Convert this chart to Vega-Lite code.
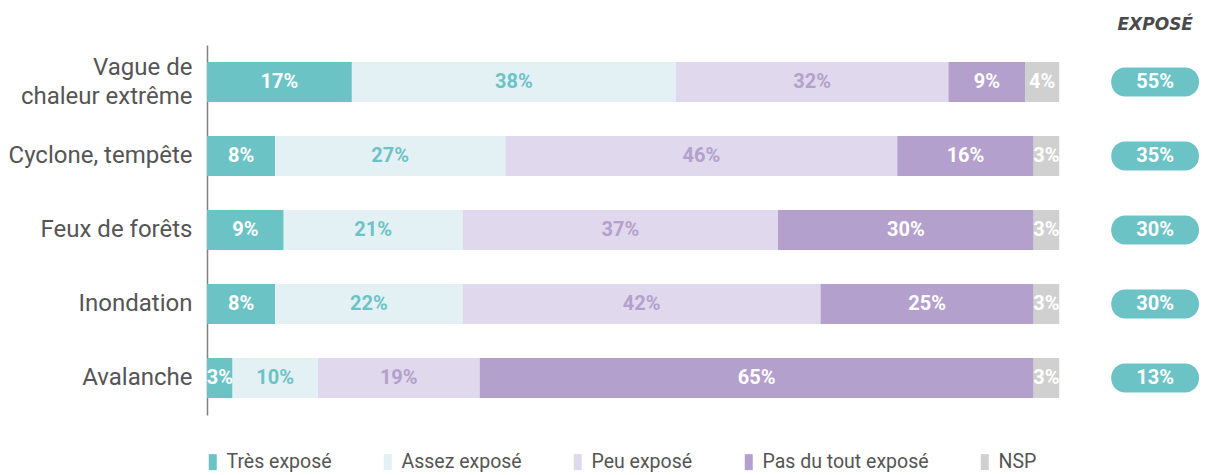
{
  "$schema": "https://vega.github.io/schema/vega-lite/v6.json",
  "width": 992,
  "height": 370,
  "padding": {"left": 8, "top": 16, "right": 5, "bottom": 5},
  "background": "white",
  "title": {"text": "EXPOSÉ", "anchor": "end", "font": "DejaVu Sans", "fontSize": 17, "fontWeight": "bold", "fontStyle": "italic", "color": "#4a4a4a", "offset": 11, "dx": -6},
  "config": {"view": {"stroke": null}, "font": "Roboto"},
  "datasets": {
    "repartition": [
      {"risque": "Vague de chaleur extrême", "categorie": "Très exposé", "rang": 1, "valeur": 0.17},
      {"risque": "Vague de chaleur extrême", "categorie": "Assez exposé", "rang": 2, "valeur": 0.38},
      {"risque": "Vague de chaleur extrême", "categorie": "Peu exposé", "rang": 3, "valeur": 0.32},
      {"risque": "Vague de chaleur extrême", "categorie": "Pas du tout exposé", "rang": 4, "valeur": 0.09},
      {"risque": "Vague de chaleur extrême", "categorie": "NSP", "rang": 5, "valeur": 0.04},
      {"risque": "Cyclone, tempête", "categorie": "Très exposé", "rang": 1, "valeur": 0.08},
      {"risque": "Cyclone, tempête", "categorie": "Assez exposé", "rang": 2, "valeur": 0.27},
      {"risque": "Cyclone, tempête", "categorie": "Peu exposé", "rang": 3, "valeur": 0.46},
      {"risque": "Cyclone, tempête", "categorie": "Pas du tout exposé", "rang": 4, "valeur": 0.16},
      {"risque": "Cyclone, tempête", "categorie": "NSP", "rang": 5, "valeur": 0.03},
      {"risque": "Feux de forêts", "categorie": "Très exposé", "rang": 1, "valeur": 0.09},
      {"risque": "Feux de forêts", "categorie": "Assez exposé", "rang": 2, "valeur": 0.21},
      {"risque": "Feux de forêts", "categorie": "Peu exposé", "rang": 3, "valeur": 0.37},
      {"risque": "Feux de forêts", "categorie": "Pas du tout exposé", "rang": 4, "valeur": 0.30},
      {"risque": "Feux de forêts", "categorie": "NSP", "rang": 5, "valeur": 0.03},
      {"risque": "Inondation", "categorie": "Très exposé", "rang": 1, "valeur": 0.08},
      {"risque": "Inondation", "categorie": "Assez exposé", "rang": 2, "valeur": 0.22},
      {"risque": "Inondation", "categorie": "Peu exposé", "rang": 3, "valeur": 0.42},
      {"risque": "Inondation", "categorie": "Pas du tout exposé", "rang": 4, "valeur": 0.25},
      {"risque": "Inondation", "categorie": "NSP", "rang": 5, "valeur": 0.03},
      {"risque": "Avalanche", "categorie": "Très exposé", "rang": 1, "valeur": 0.03},
      {"risque": "Avalanche", "categorie": "Assez exposé", "rang": 2, "valeur": 0.10},
      {"risque": "Avalanche", "categorie": "Peu exposé", "rang": 3, "valeur": 0.19},
      {"risque": "Avalanche", "categorie": "Pas du tout exposé", "rang": 4, "valeur": 0.65},
      {"risque": "Avalanche", "categorie": "NSP", "rang": 5, "valeur": 0.03}
    ],
    "exposes": [
      {"risque": "Vague de chaleur extrême", "expose": 0.55},
      {"risque": "Cyclone, tempête", "expose": 0.35},
      {"risque": "Feux de forêts", "expose": 0.30},
      {"risque": "Inondation", "expose": 0.30},
      {"risque": "Avalanche", "expose": 0.13}
    ]
  },
  "encoding": {
    "y": {
      "field": "risque",
      "type": "nominal",
      "sort": ["Vague de chaleur extrême", "Cyclone, tempête", "Feux de forêts", "Inondation", "Avalanche"],
      "title": null,
      "scale": {"paddingInner": 0.46, "paddingOuter": 0.23},
      "axis": {
        "ticks": false,
        "domainColor": "#808080",
        "domainWidth": 1.5,
        "labelFont": "Roboto",
        "labelFontSize": 24,
        "labelColor": "#555555",
        "labelPadding": 15,
        "labelLimit": 400,
        "labelLineHeight": 29,
        "labelOffset": {"condition": {"test": "datum.value == 'Vague de chaleur extrême'", "value": -14}, "value": 0},
        "labelExpr": "datum.value == 'Vague de chaleur extrême' ? ['Vague de', 'chaleur extrême'] : datum.label"
      }
    }
  },
  "layer": [
    {
      "data": {"name": "repartition"},
      "mark": {"type": "bar"},
      "encoding": {
        "x": {"field": "valeur", "type": "quantitative", "stack": "zero", "scale": {"domain": [0, 1.164], "nice": false}, "axis": null},
        "order": {"field": "rang", "type": "quantitative"},
        "color": {
          "field": "categorie",
          "type": "nominal",
          "scale": {
            "domain": ["Très exposé", "Assez exposé", "Peu exposé", "Pas du tout exposé", "NSP"],
            "range": ["#6CC3C6", "#E3F1F5", "#E0D8EC", "#B4A0CC", "#D0D0D0"]
          },
          "legend": {
            "orient": "bottom",
            "direction": "horizontal",
            "title": null,
            "symbolType": "M-1,-1H0V1H-1Z",
            "symbolSize": 256,
            "symbolStrokeWidth": 0,
            "symbolOpacity": 1,
            "labelFont": "Roboto",
            "labelFontSize": 19.5,
            "labelColor": "#555555",
            "labelLimit": 300,
            "labelOffset": 0,
            "columnPadding": 50,
            "offset": 37
          }
        }
      }
    },
    {
      "data": {"name": "repartition"},
      "mark": {"type": "text", "font": "Roboto", "fontSize": 20, "fontWeight": "bold", "align": "center", "baseline": "middle"},
      "encoding": {
        "x": {"field": "valeur", "type": "quantitative", "stack": "zero", "bandPosition": 0.5},
        "order": {"field": "rang", "type": "quantitative"},
        "text": {"field": "valeur", "type": "quantitative", "format": ".0%"},
        "color": {
          "field": "categorie",
          "type": "nominal",
          "scale": {
            "domain": ["Très exposé", "Assez exposé", "Peu exposé", "Pas du tout exposé", "NSP"],
            "range": ["#ffffff", "#6CC3C6", "#B4A0CC", "#ffffff", "#ffffff"]
          },
          "legend": null
        }
      }
    },
    {
      "data": {"name": "exposes"},
      "mark": {"type": "bar", "color": "#6CC3C6", "cornerRadius": 14, "height": {"band": 0.72}},
      "encoding": {
        "x": {"datum": 1.061, "type": "quantitative"},
        "x2": {"datum": 1.164}
      }
    },
    {
      "data": {"name": "exposes"},
      "mark": {"type": "text", "color": "#ffffff", "font": "Roboto", "fontSize": 20, "fontWeight": "bold", "align": "center", "baseline": "middle"},
      "encoding": {
        "x": {"datum": 1.1125, "type": "quantitative"},
        "text": {"field": "expose", "type": "quantitative", "format": ".0%"}
      }
    }
  ],
  "resolve": {"scale": {"color": "independent"}}
}
